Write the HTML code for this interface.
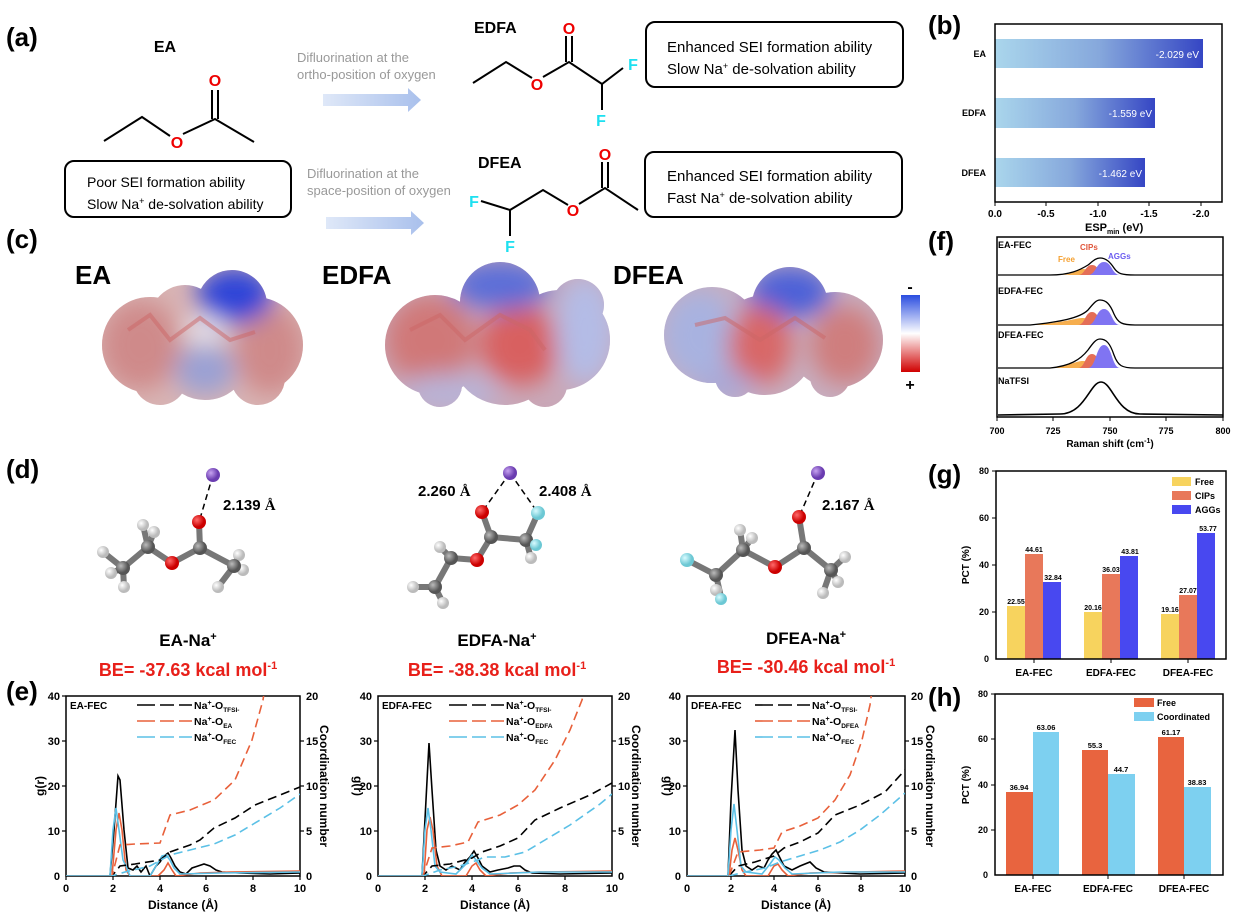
<!DOCTYPE html>
<html><head><meta charset="utf-8"><style>
html,body{margin:0;padding:0;background:#fff;}
svg{display:block;font-family:"Liberation Sans",Arial,sans-serif;}
.b{font-weight:bold;}
.n{font-family:"Liberation Sans Narrow","Liberation Sans",sans-serif;}
</style></head><body>
<svg width="1243" height="917" viewBox="0 0 1243 917" xmlns="http://www.w3.org/2000/svg">
<defs>
<linearGradient id="bar" x1="0" x2="1" y1="0" y2="0"><stop offset="0" stop-color="#aad6ec"/><stop offset="0.5" stop-color="#86a8dc"/><stop offset="1" stop-color="#3546c4"/></linearGradient>
<linearGradient id="arr" x1="0" x2="1"><stop offset="0" stop-color="#dfe8f8"/><stop offset="1" stop-color="#a9c0ec"/></linearGradient>
<linearGradient id="cbar" x1="0" x2="0" y1="0" y2="1"><stop offset="0" stop-color="#2a4de0"/><stop offset="0.5" stop-color="#ffffff"/><stop offset="1" stop-color="#d00000"/></linearGradient>
<radialGradient id="ballC" cx="0.35" cy="0.35"><stop offset="0" stop-color="#bbb"/><stop offset="1" stop-color="#555"/></radialGradient>
<radialGradient id="ballH" cx="0.35" cy="0.35"><stop offset="0" stop-color="#fff"/><stop offset="1" stop-color="#bbb"/></radialGradient>
<radialGradient id="ballO" cx="0.35" cy="0.35"><stop offset="0" stop-color="#ff6a6a"/><stop offset="1" stop-color="#c00"/></radialGradient>
<radialGradient id="ballN" cx="0.35" cy="0.35"><stop offset="0" stop-color="#c7a2f0"/><stop offset="1" stop-color="#6a3cb0"/></radialGradient>
<radialGradient id="ballF" cx="0.35" cy="0.35"><stop offset="0" stop-color="#d9fbff"/><stop offset="1" stop-color="#6cc8d4"/></radialGradient>
<filter id="blur" x="-50%" y="-50%" width="200%" height="200%"><feGaussianBlur stdDeviation="12"/></filter>
<clipPath id="bEA"><circle cx="150" cy="345" r="48"/><circle cx="255" cy="345" r="48"/><circle cx="205" cy="355" r="45"/><circle cx="232" cy="305" r="35"/><circle cx="185" cy="320" r="35"/><circle cx="160" cy="378" r="27"/><circle cx="258" cy="378" r="27"/></clipPath>
<clipPath id="bED"><circle cx="435" cy="345" r="50"/><circle cx="560" cy="340" r="50"/><circle cx="500" cy="302" r="40"/><circle cx="505" cy="350" r="55"/><circle cx="440" cy="385" r="22"/><circle cx="545" cy="385" r="22"/><circle cx="578" cy="305" r="26"/></clipPath>
<clipPath id="bDF"><circle cx="712" cy="335" r="48"/><circle cx="835" cy="340" r="48"/><circle cx="790" cy="305" r="38"/><circle cx="765" cy="345" r="50"/><circle cx="735" cy="377" r="20"/><circle cx="830" cy="377" r="20"/></clipPath>
<clipPath id="c1"><rect x="66" y="696" width="234" height="180"/></clipPath>
<clipPath id="c2"><rect x="378" y="696" width="234" height="180"/></clipPath>
<clipPath id="c3"><rect x="687" y="696" width="218" height="180"/></clipPath>
</defs>

<!-- ===== (a) ===== -->
<text x="6" y="46" class="b" font-size="26">(a)</text>
<text x="165" y="52" class="b" font-size="16" text-anchor="middle">EA</text>
<g stroke="#000" stroke-width="2" fill="none">
<polyline points="104,141 142,117 170,136"/><polyline points="183,134 215,119 254,142"/>
<line x1="212" y1="119" x2="212" y2="90"/><line x1="218" y1="119" x2="218" y2="90"/>
</g>
<g fill="#e00" font-size="16" class="b" text-anchor="middle"><text x="177" y="148">O</text><text x="215" y="86">O</text></g>
<rect x="65" y="161" width="226" height="56" rx="9" fill="none" stroke="#000" stroke-width="2"/>
<text x="87" y="187" font-size="14" class="n">Poor SEI formation ability</text>
<text x="87" y="209" font-size="14" class="n">Slow Na<tspan font-size="9" dy="-5">+</tspan><tspan dy="5"> de-solvation ability</tspan></text>

<text x="297" y="62" font-size="13" fill="#999" class="n">Difluorination at the</text>
<text x="297" y="79" font-size="13" fill="#999" class="n">ortho-position of oxygen</text>
<path d="M323 94 L408 94 L408 88 L421 100 L408 112 L408 106 L323 106Z" fill="url(#arr)"/>
<text x="307" y="178" font-size="13" fill="#999" class="n">Difluorination at the</text>
<text x="307" y="195" font-size="13" fill="#999" class="n">space-position of oxygen</text>
<path d="M326 217 L411 217 L411 211 L424 223 L411 235 L411 229 L326 229Z" fill="url(#arr)"/>

<text x="474" y="33" class="b" font-size="16">EDFA</text>
<g stroke="#000" stroke-width="2" fill="none">
<polyline points="473,83 506,62 532,78"/><polyline points="543,77 569,62 602,84 623,68"/>
<line x1="602" y1="84" x2="602" y2="110"/>
<line x1="566" y1="62" x2="566" y2="36"/><line x1="572" y1="62" x2="572" y2="36"/>
</g>
<g font-size="16" class="b" text-anchor="middle"><text x="537" y="90" fill="#e00">O</text><text x="569" y="34" fill="#e00">O</text><text x="633" y="70" fill="#1de0f0">F</text><text x="601" y="126" fill="#1de0f0">F</text></g>
<rect x="646" y="22" width="257" height="65" rx="9" fill="none" stroke="#000" stroke-width="2"/>
<text x="667" y="52" font-size="15" class="n">Enhanced SEI formation ability</text>
<text x="667" y="74" font-size="15" class="n">Slow Na<tspan font-size="9" dy="-5">+</tspan><tspan dy="5"> de-solvation ability</tspan></text>

<text x="478" y="168" class="b" font-size="16">DFEA</text>
<g stroke="#000" stroke-width="2" fill="none">
<polyline points="481,201 510,210 543,190 568,205"/><polyline points="579,204 605,188 638,210"/>
<line x1="510" y1="210" x2="510" y2="236"/>
<line x1="602" y1="188" x2="602" y2="162"/><line x1="608" y1="188" x2="608" y2="162"/>
</g>
<g font-size="16" class="b" text-anchor="middle"><text x="573" y="216" fill="#e00">O</text><text x="605" y="160" fill="#e00">O</text><text x="474" y="207" fill="#1de0f0">F</text><text x="510" y="252" fill="#1de0f0">F</text></g>
<rect x="645" y="152" width="257" height="65" rx="9" fill="none" stroke="#000" stroke-width="2"/>
<text x="667" y="181" font-size="15" class="n">Enhanced SEI formation ability</text>
<text x="667" y="203" font-size="15" class="n">Fast Na<tspan font-size="9" dy="-5">+</tspan><tspan dy="5"> de-solvation ability</tspan></text>

<!-- ===== (c) ===== -->
<text x="6" y="248" class="b" font-size="26">(c)</text>
<text x="75" y="284" class="b" font-size="26">EA</text>
<text x="322" y="284" class="b" font-size="26">EDFA</text>
<text x="613" y="284" class="b" font-size="26">DFEA</text>
<!-- EA blob -->
<g clip-path="url(#bEA)">
<rect x="90" y="260" width="230" height="160" fill="#d8b4b4"/>
<g filter="url(#blur)">
<ellipse cx="140" cy="345" rx="40" ry="45" fill="#cf8a8a"/>
<ellipse cx="270" cy="350" rx="35" ry="45" fill="#cf8a8a"/>
<ellipse cx="235" cy="295" rx="38" ry="28" fill="#2d44d8"/>
<ellipse cx="205" cy="370" rx="30" ry="25" fill="#9aa0d4"/>
<ellipse cx="205" cy="330" rx="20" ry="14" fill="#e8e4ec"/>
</g>
</g>
<!-- EDFA blob -->
<g clip-path="url(#bED)">
<rect x="375" y="250" width="250" height="170" fill="#c9a8b8"/>
<g filter="url(#blur)">
<ellipse cx="430" cy="340" rx="45" ry="45" fill="#d07878"/>
<ellipse cx="520" cy="345" rx="40" ry="40" fill="#d86060"/>
<ellipse cx="500" cy="285" rx="50" ry="25" fill="#5c6ed8"/>
<ellipse cx="585" cy="330" rx="30" ry="55" fill="#b4bce6"/>
<ellipse cx="450" cy="392" rx="50" ry="18" fill="#b8b4d8"/>
</g>
</g>
<!-- DFEA blob -->
<g clip-path="url(#bDF)">
<rect x="655" y="255" width="240" height="150" fill="#c7aec0"/>
<g filter="url(#blur)">
<ellipse cx="700" cy="335" rx="38" ry="45" fill="#a8b2e0"/>
<ellipse cx="845" cy="345" rx="35" ry="40" fill="#cf7e7e"/>
<ellipse cx="790" cy="292" rx="42" ry="26" fill="#4c60d8"/>
<ellipse cx="760" cy="345" rx="32" ry="40" fill="#d86868"/>
<ellipse cx="725" cy="385" rx="30" ry="14" fill="#a8a8d8"/>
</g>
</g>
<g stroke="#c66" stroke-width="4" opacity="0.5" fill="none">
<polyline points="128,330 150,315 170,340 200,318 230,340 255,332"/>
<polyline points="410,330 440,315 465,340 500,315 530,330 545,350"/>
<polyline points="695,325 725,318 760,340 795,318 825,338"/>
</g>
<rect x="901" y="295" width="19" height="77" fill="url(#cbar)"/>
<text x="910" y="292" class="b" font-size="16" text-anchor="middle">-</text>
<text x="910" y="390" class="b" font-size="16" text-anchor="middle">+</text>

<!-- ===== (d) ===== -->
<text x="6" y="478" class="b" font-size="26">(d)</text>
<g stroke="#777" stroke-width="6" stroke-linecap="round">
<polyline points="123,568 148,547 172,563 200,548 234,566" fill="none"/>
<line x1="200" y1="548" x2="199" y2="522"/>
<line x1="148" y1="547" x2="143" y2="525"/><line x1="148" y1="547" x2="154" y2="532"/>
<line x1="123" y1="568" x2="103" y2="552"/><line x1="123" y1="568" x2="111" y2="573"/><line x1="123" y1="568" x2="124" y2="587"/>
<line x1="234" y1="566" x2="239" y2="555"/><line x1="234" y1="566" x2="243" y2="570"/><line x1="234" y1="566" x2="218" y2="587"/>
</g>
<line x1="213" y1="475" x2="199" y2="522" stroke="#000" stroke-dasharray="6,4" stroke-width="1.5"/>
<g>
<circle cx="143" cy="525" r="6" fill="url(#ballH)"/><circle cx="154" cy="532" r="6" fill="url(#ballH)"/>
<circle cx="103" cy="552" r="6" fill="url(#ballH)"/><circle cx="111" cy="573" r="6" fill="url(#ballH)"/><circle cx="124" cy="587" r="6" fill="url(#ballH)"/>
<circle cx="239" cy="555" r="6" fill="url(#ballH)"/><circle cx="243" cy="570" r="6" fill="url(#ballH)"/><circle cx="218" cy="587" r="6" fill="url(#ballH)"/>
<circle cx="123" cy="568" r="7" fill="url(#ballC)"/><circle cx="148" cy="547" r="7" fill="url(#ballC)"/><circle cx="200" cy="548" r="7" fill="url(#ballC)"/><circle cx="234" cy="566" r="7" fill="url(#ballC)"/>
<circle cx="172" cy="563" r="7" fill="url(#ballO)"/><circle cx="199" cy="522" r="7" fill="url(#ballO)"/>
<circle cx="213" cy="475" r="7" fill="url(#ballN)"/>
</g>
<text x="223" y="510" class="b" font-size="15">2.139 <tspan font-family="Liberation Serif">Å</tspan></text>

<g stroke="#777" stroke-width="6" stroke-linecap="round" fill="none">
<polyline points="435,587 451,558 477,560 491,537 526,540 538,513"/>
<line x1="491" y1="537" x2="482" y2="512"/><line x1="526" y1="540" x2="531" y2="558"/><line x1="526" y1="540" x2="536" y2="545"/>
<line x1="451" y1="558" x2="440" y2="547"/><line x1="435" y1="587" x2="413" y2="587"/><line x1="435" y1="587" x2="443" y2="603"/>
</g>
<g stroke="#000" stroke-dasharray="6,4" stroke-width="1.5"><line x1="510" y1="473" x2="482" y2="512"/><line x1="510" y1="473" x2="538" y2="513"/></g>
<g>
<circle cx="440" cy="547" r="6" fill="url(#ballH)"/><circle cx="413" cy="587" r="6" fill="url(#ballH)"/><circle cx="443" cy="603" r="6" fill="url(#ballH)"/><circle cx="531" cy="558" r="6" fill="url(#ballH)"/>
<circle cx="435" cy="587" r="7" fill="url(#ballC)"/><circle cx="451" cy="558" r="7" fill="url(#ballC)"/><circle cx="491" cy="537" r="7" fill="url(#ballC)"/><circle cx="526" cy="540" r="7" fill="url(#ballC)"/>
<circle cx="536" cy="545" r="6" fill="url(#ballF)"/><circle cx="538" cy="513" r="7" fill="url(#ballF)"/>
<circle cx="477" cy="560" r="7" fill="url(#ballO)"/><circle cx="482" cy="512" r="7" fill="url(#ballO)"/>
<circle cx="510" cy="473" r="7" fill="url(#ballN)"/>
</g>
<text x="418" y="496" class="b" font-size="15">2.260 <tspan font-family="Liberation Serif">Å</tspan></text>
<text x="539" y="496" class="b" font-size="15">2.408 <tspan font-family="Liberation Serif">Å</tspan></text>

<g stroke="#777" stroke-width="6" stroke-linecap="round" fill="none">
<polyline points="687,560 716,575 743,550 775,567 804,548 831,570"/>
<line x1="804" y1="548" x2="799" y2="517"/><line x1="716" y1="575" x2="721" y2="597"/>
<line x1="743" y1="550" x2="740" y2="530"/><line x1="743" y1="550" x2="752" y2="538"/>
<line x1="831" y1="570" x2="845" y2="557"/><line x1="831" y1="570" x2="823" y2="593"/><line x1="831" y1="570" x2="838" y2="582"/>
</g>
<line x1="818" y1="473" x2="799" y2="517" stroke="#000" stroke-dasharray="6,4" stroke-width="1.5"/>
<g>
<circle cx="740" cy="530" r="6" fill="url(#ballH)"/><circle cx="752" cy="538" r="6" fill="url(#ballH)"/><circle cx="845" cy="557" r="6" fill="url(#ballH)"/><circle cx="823" cy="593" r="6" fill="url(#ballH)"/><circle cx="838" cy="582" r="6" fill="url(#ballH)"/><circle cx="716" cy="590" r="6" fill="url(#ballH)"/>
<circle cx="716" cy="575" r="7" fill="url(#ballC)"/><circle cx="743" cy="550" r="7" fill="url(#ballC)"/><circle cx="804" cy="548" r="7" fill="url(#ballC)"/><circle cx="831" cy="570" r="7" fill="url(#ballC)"/>
<circle cx="687" cy="560" r="7" fill="url(#ballF)"/><circle cx="721" cy="599" r="6" fill="url(#ballF)"/>
<circle cx="775" cy="567" r="7" fill="url(#ballO)"/><circle cx="799" cy="517" r="7" fill="url(#ballO)"/>
<circle cx="818" cy="473" r="7" fill="url(#ballN)"/>
</g>
<text x="822" y="510" class="b" font-size="15">2.167 <tspan font-family="Liberation Serif">Å</tspan></text>

<g class="b" font-size="17" text-anchor="middle">
<text x="188" y="646">EA-Na<tspan font-size="11" dy="-6">+</tspan></text>
<text x="497" y="646">EDFA-Na<tspan font-size="11" dy="-6">+</tspan></text>
<text x="806" y="644">DFEA-Na<tspan font-size="11" dy="-6">+</tspan></text>
</g>
<g class="b" font-size="18" fill="#e8201a" text-anchor="middle">
<text x="188" y="676">BE= -37.63 kcal mol<tspan font-size="11" dy="-7">-1</tspan></text>
<text x="497" y="676">BE= -38.38 kcal mol<tspan font-size="11" dy="-7">-1</tspan></text>
<text x="806" y="673">BE= -30.46 kcal mol<tspan font-size="11" dy="-7">-1</tspan></text>
</g>

<!-- ===== (e) ===== -->
<text x="6" y="700" class="b" font-size="26">(e)</text>
<!-- plot 1 -->
<g>
<rect x="66" y="696" width="234" height="180" fill="none" stroke="#000" stroke-width="1.5"/>
<g stroke="#000" stroke-width="1.2">
<line x1="66" y1="876" x2="66" y2="880"/><line x1="113" y1="876" x2="113" y2="880"/><line x1="160" y1="876" x2="160" y2="880"/><line x1="206" y1="876" x2="206" y2="880"/><line x1="253" y1="876" x2="253" y2="880"/><line x1="300" y1="876" x2="300" y2="880"/>
<line x1="62" y1="696" x2="66" y2="696"/><line x1="62" y1="741" x2="66" y2="741"/><line x1="62" y1="786" x2="66" y2="786"/><line x1="62" y1="831" x2="66" y2="831"/>
<line x1="300" y1="741" x2="304" y2="741"/><line x1="300" y1="786" x2="304" y2="786"/><line x1="300" y1="831" x2="304" y2="831"/>
</g>
<g font-size="11" class="b" text-anchor="middle"><text x="66" y="892">0</text><text x="113" y="892">2</text><text x="160" y="892">4</text><text x="206" y="892">6</text><text x="253" y="892">8</text><text x="300" y="892">10</text></g>
<g font-size="11" class="b" text-anchor="end"><text x="60" y="700">40</text><text x="60" y="745">30</text><text x="60" y="790">20</text><text x="60" y="835">10</text><text x="60" y="880">0</text></g>
<g font-size="11" class="b"><text x="306" y="700">20</text><text x="306" y="745">15</text><text x="306" y="790">10</text><text x="306" y="835">5</text><text x="306" y="880">0</text></g>
<text x="183" y="909" class="b" font-size="12" text-anchor="middle">Distance (Å)</text>
<text transform="translate(44,786) rotate(-90)" class="b" font-size="12" text-anchor="middle">g(r)</text>
<text transform="translate(320,786) rotate(90)" class="b" font-size="12" text-anchor="middle">Coordination number</text>
<g clip-path="url(#c1)" fill="none" stroke-width="1.6">
<polyline stroke="#000" points="66,876 110,876 114,830 118,776 120,780 124,830 128,868 133,870 137,866 141,872 146,866 150,876 156,866 160,862 164,856 168,853 171,858 175,866 180,872 186,874 192,868 198,866 204,864 210,866 216,870 222,872 240,873 270,874 300,873"/>
<polyline stroke="#e8603a" points="66,876 112,876 116,830 119,813 122,830 126,870 130,876 158,876 164,870 168,863 172,870 176,876 200,873 230,872 300,871"/>
<polyline stroke="#5bc0e6" points="66,876 110,876 113,830 116,808 119,830 123,860 126,866 130,876 150,876 156,866 162,856 166,855 170,860 174,868 180,874 220,873 300,872"/>
<polyline stroke="#000" stroke-dasharray="9,5" points="66,876 112,876 120,866 135,864 160,860 170,852 190,845 200,840 214,828 235,818 255,805 280,795 300,787"/>
<polyline stroke="#e8603a" stroke-dasharray="9,5" points="66,876 112,876 120,845 135,844 160,843 170,815 190,810 214,800 235,780 252,740 263,700 266,680"/>
<polyline stroke="#5bc0e6" stroke-dasharray="9,5" points="66,876 112,876 125,872 150,866 170,855 190,850 214,844 235,835 260,820 280,808 300,794"/>
</g>
<text x="70" y="709" class="b" font-size="10">EA-FEC</text>
<g stroke-width="1.6" fill="none"><line x1="137" y1="705" x2="192" y2="705" stroke="#000" stroke-dasharray="18,5,14,5"/><line x1="137" y1="721" x2="192" y2="721" stroke="#e8603a" stroke-dasharray="18,5,14,5"/><line x1="137" y1="737" x2="192" y2="737" stroke="#5bc0e6" stroke-dasharray="18,5,14,5"/></g>
<g font-size="10.5" class="b"><text x="194" y="709">Na<tspan font-size="7" dy="-4">+</tspan><tspan dy="4">-O</tspan><tspan font-size="6.5" dy="3">TFSI-</tspan></text><text x="194" y="725">Na<tspan font-size="7" dy="-4">+</tspan><tspan dy="4">-O</tspan><tspan font-size="6.5" dy="3">EA</tspan></text><text x="194" y="741">Na<tspan font-size="7" dy="-4">+</tspan><tspan dy="4">-O</tspan><tspan font-size="6.5" dy="3">FEC</tspan></text></g>
</g>
<!-- plot 2 -->
<g>
<rect x="378" y="696" width="234" height="180" fill="none" stroke="#000" stroke-width="1.5"/>
<g stroke="#000" stroke-width="1.2">
<line x1="425" y1="876" x2="425" y2="880"/><line x1="472" y1="876" x2="472" y2="880"/><line x1="518" y1="876" x2="518" y2="880"/><line x1="565" y1="876" x2="565" y2="880"/>
<line x1="374" y1="741" x2="378" y2="741"/><line x1="374" y1="786" x2="378" y2="786"/><line x1="374" y1="831" x2="378" y2="831"/>
<line x1="612" y1="741" x2="616" y2="741"/><line x1="612" y1="786" x2="616" y2="786"/><line x1="612" y1="831" x2="616" y2="831"/>
</g>
<g font-size="11" class="b" text-anchor="middle"><text x="378" y="892">0</text><text x="425" y="892">2</text><text x="472" y="892">4</text><text x="518" y="892">6</text><text x="565" y="892">8</text><text x="612" y="892">10</text></g>
<g font-size="11" class="b" text-anchor="end"><text x="372" y="700">40</text><text x="372" y="745">30</text><text x="372" y="790">20</text><text x="372" y="835">10</text><text x="372" y="880">0</text></g>
<g font-size="11" class="b"><text x="618" y="700">20</text><text x="618" y="745">15</text><text x="618" y="790">10</text><text x="618" y="835">5</text><text x="618" y="880">0</text></g>
<text x="495" y="909" class="b" font-size="12" text-anchor="middle">Distance (Å)</text>
<text transform="translate(354,786) rotate(90)" class="b" font-size="12" text-anchor="middle">g(r)</text>
<text transform="translate(632,786) rotate(90)" class="b" font-size="12" text-anchor="middle">Coordination number</text>
<g clip-path="url(#c2)" fill="none" stroke-width="1.6">
<polyline stroke="#000" points="378,876 422,876 426,800 429,743 432,790 436,850 440,866 446,870 452,866 460,870 465,862 470,857 474,851 478,858 482,866 490,872 498,870 508,868 514,866 520,866 525,870 532,873 560,874 612,873"/>
<polyline stroke="#e8603a" points="378,876 424,876 427,830 430,817 433,830 437,866 442,876 466,876 472,866 476,863 480,870 486,876 510,873 540,872 612,871"/>
<polyline stroke="#5bc0e6" points="378,876 422,876 425,830 428,808 431,830 435,866 440,872 456,874 466,864 472,855 476,860 482,868 490,874 540,872 612,872"/>
<polyline stroke="#000" stroke-dasharray="9,5" points="378,876 423,876 432,866 450,864 472,858 482,852 500,846 518,838 535,820 560,808 590,795 612,783"/>
<polyline stroke="#e8603a" stroke-dasharray="9,5" points="378,876 423,876 432,848 450,846 468,842 478,822 500,815 518,805 535,790 555,760 570,730 582,700 585,690"/>
<polyline stroke="#5bc0e6" stroke-dasharray="9,5" points="378,876 423,876 440,870 460,866 478,860 484,857 505,857 525,852 545,840 570,825 600,804 612,794"/>
</g>
<text x="382" y="709" class="b" font-size="10">EDFA-FEC</text>
<g stroke-width="1.6" fill="none"><line x1="449" y1="705" x2="504" y2="705" stroke="#000" stroke-dasharray="18,5,14,5"/><line x1="449" y1="721" x2="504" y2="721" stroke="#e8603a" stroke-dasharray="18,5,14,5"/><line x1="449" y1="737" x2="504" y2="737" stroke="#5bc0e6" stroke-dasharray="18,5,14,5"/></g>
<g font-size="10.5" class="b"><text x="506" y="709">Na<tspan font-size="7" dy="-4">+</tspan><tspan dy="4">-O</tspan><tspan font-size="6.5" dy="3">TFSI-</tspan></text><text x="506" y="725">Na<tspan font-size="7" dy="-4">+</tspan><tspan dy="4">-O</tspan><tspan font-size="6.5" dy="3">EDFA</tspan></text><text x="506" y="741">Na<tspan font-size="7" dy="-4">+</tspan><tspan dy="4">-O</tspan><tspan font-size="6.5" dy="3">FEC</tspan></text></g>
</g>
<!-- plot 3 -->
<g>
<rect x="687" y="696" width="218" height="180" fill="none" stroke="#000" stroke-width="1.5"/>
<g stroke="#000" stroke-width="1.2">
<line x1="731" y1="876" x2="731" y2="880"/><line x1="774" y1="876" x2="774" y2="880"/><line x1="818" y1="876" x2="818" y2="880"/><line x1="861" y1="876" x2="861" y2="880"/>
<line x1="683" y1="741" x2="687" y2="741"/><line x1="683" y1="786" x2="687" y2="786"/><line x1="683" y1="831" x2="687" y2="831"/>
<line x1="905" y1="741" x2="909" y2="741"/><line x1="905" y1="786" x2="909" y2="786"/><line x1="905" y1="831" x2="909" y2="831"/>
</g>
<g font-size="11" class="b" text-anchor="middle"><text x="687" y="892">0</text><text x="731" y="892">2</text><text x="774" y="892">4</text><text x="818" y="892">6</text><text x="861" y="892">8</text><text x="905" y="892">10</text></g>
<g font-size="11" class="b" text-anchor="end"><text x="681" y="700">40</text><text x="681" y="745">30</text><text x="681" y="790">20</text><text x="681" y="835">10</text><text x="681" y="880">0</text></g>
<g font-size="11" class="b"><text x="911" y="700">20</text><text x="911" y="745">15</text><text x="911" y="790">10</text><text x="911" y="835">5</text><text x="911" y="880">0</text></g>
<text x="796" y="909" class="b" font-size="12" text-anchor="middle">Distance (Å)</text>
<text transform="translate(664,786) rotate(90)" class="b" font-size="12" text-anchor="middle">g(r)</text>
<text transform="translate(926,786) rotate(90)" class="b" font-size="12" text-anchor="middle">Coordination number</text>
<g clip-path="url(#c3)" fill="none" stroke-width="1.6">
<polyline stroke="#000" points="687,876 728,876 731,800 735,730 738,790 742,850 746,866 752,870 758,866 764,868 768,860 772,854 776,850 780,858 784,866 792,870 800,866 810,862 816,868 824,872 860,874 905,873"/>
<polyline stroke="#e8603a" points="687,876 729,876 732,850 735,838 738,850 742,870 746,876 768,876 774,866 778,864 782,870 788,876 810,873 905,871"/>
<polyline stroke="#5bc0e6" points="687,876 728,876 731,830 734,804 737,830 741,866 746,872 762,874 770,864 775,857 779,860 785,868 792,874 840,872 905,872"/>
<polyline stroke="#000" stroke-dasharray="9,5" points="687,876 729,876 738,866 755,862 774,856 784,848 800,842 818,833 835,815 860,805 885,792 905,770"/>
<polyline stroke="#e8603a" stroke-dasharray="9,5" points="687,876 729,876 738,852 760,850 774,848 782,832 800,826 818,818 835,800 850,775 862,740 870,705 872,690"/>
<polyline stroke="#5bc0e6" stroke-dasharray="9,5" points="687,876 729,876 745,872 765,868 780,862 800,856 820,850 840,842 860,830 880,815 905,793"/>
</g>
<text x="691" y="709" class="b" font-size="10">DFEA-FEC</text>
<g stroke-width="1.6" fill="none"><line x1="755" y1="705" x2="810" y2="705" stroke="#000" stroke-dasharray="18,5,14,5"/><line x1="755" y1="721" x2="810" y2="721" stroke="#e8603a" stroke-dasharray="18,5,14,5"/><line x1="755" y1="737" x2="810" y2="737" stroke="#5bc0e6" stroke-dasharray="18,5,14,5"/></g>
<g font-size="10.5" class="b"><text x="812" y="709">Na<tspan font-size="7" dy="-4">+</tspan><tspan dy="4">-O</tspan><tspan font-size="6.5" dy="3">TFSI-</tspan></text><text x="812" y="725">Na<tspan font-size="7" dy="-4">+</tspan><tspan dy="4">-O</tspan><tspan font-size="6.5" dy="3">DFEA</tspan></text><text x="812" y="741">Na<tspan font-size="7" dy="-4">+</tspan><tspan dy="4">-O</tspan><tspan font-size="6.5" dy="3">FEC</tspan></text></g>
</g>

<!-- ===== (b) ===== -->
<text x="928" y="34" class="b" font-size="26">(b)</text>
<rect x="995" y="39" width="208" height="29" fill="url(#bar)"/>
<rect x="995" y="98" width="160" height="30" fill="url(#bar)"/>
<rect x="995" y="158" width="150" height="29" fill="url(#bar)"/>
<g fill="#fff" font-size="10" text-anchor="end"><text x="1199" y="58">-2.029 eV</text><text x="1152" y="117">-1.559 eV</text><text x="1142" y="177">-1.462 eV</text></g>
<rect x="995" y="24" width="227" height="178" fill="none" stroke="#000" stroke-width="1.5"/>
<g class="b" font-size="9" text-anchor="end"><text x="986" y="57">EA</text><text x="986" y="116">EDFA</text><text x="986" y="176">DFEA</text></g>
<g stroke="#000" stroke-width="1"><line x1="995" y1="202" x2="995" y2="206"/><line x1="1046" y1="202" x2="1046" y2="206"/><line x1="1098" y1="202" x2="1098" y2="206"/><line x1="1149" y1="202" x2="1149" y2="206"/><line x1="1201" y1="202" x2="1201" y2="206"/></g>
<g class="b" font-size="10" text-anchor="middle"><text x="995" y="217">0.0</text><text x="1046" y="217">-0.5</text><text x="1098" y="217">-1.0</text><text x="1149" y="217">-1.5</text><text x="1201" y="217">-2.0</text></g>
<text x="1085" y="231" class="b" font-size="11">ESP<tspan font-size="7" dy="3">min</tspan><tspan dy="-3"> (eV)</tspan></text>

<!-- ===== (f) ===== -->
<text x="928" y="250" class="b" font-size="26">(f)</text>
<g opacity="0.85">
<path d="M1060 275 C1074 275,1074 269,1083 269 C1092 269,1092 275,1099 275Z" fill="#f5a030"/>
<path d="M1078 275 C1085 275,1085 265,1092 265 C1099 265,1099 275,1106 275Z" fill="#e0553a"/>
<path d="M1088 275 C1096 275,1096 262,1104 262 C1112 262,1112 275,1120 275Z" fill="#6b5cf0"/>
<path d="M1030 325 C1070 322,1075 318,1083 318 C1092 318,1092 325,1099 325Z" fill="#f5a030"/>
<path d="M1078 325 C1085 325,1085 312,1092 312 C1099 312,1099 325,1106 325Z" fill="#e0553a"/>
<path d="M1088 325 C1096 325,1096 309,1104 309 C1112 309,1112 325,1120 325Z" fill="#6b5cf0"/>
<path d="M1050 368 C1070 366,1075 361,1083 361 C1092 361,1092 368,1099 368Z" fill="#f5a030"/>
<path d="M1078 368 C1085 368,1085 354,1092 354 C1099 354,1099 368,1106 368Z" fill="#e0553a"/>
<path d="M1088 368 C1096 368,1096 345,1104 345 C1112 345,1112 368,1120 368Z" fill="#6b5cf0"/>
</g>
<g fill="none" stroke="#000" stroke-width="1.3">
<path d="M998 275 L1050 275 C1070 275,1080 270,1088 265 C1093 261,1096 258,1100 258 C1106 258,1110 262,1114 268 C1118 274,1122 275,1135 275 L1223 275"/>
<path d="M998 325 L1030 325 C1060 322,1080 318,1088 310 C1093 304,1096 300,1100 300 C1106 300,1110 304,1114 314 C1118 323,1122 325,1135 325 L1223 325"/>
<path d="M998 368 L1050 368 C1070 366,1080 360,1088 350 C1093 343,1096 339,1100 339 C1106 339,1110 343,1114 355 C1118 366,1122 368,1135 368 L1223 368"/>
<path d="M998 415 L1060 414 C1085 414,1090 382,1101 382 C1112 382,1117 414,1140 414 L1223 415" stroke-width="1.6"/>
</g>
<rect x="997" y="237" width="226" height="180" fill="none" stroke="#000" stroke-width="1.5"/>
<g class="b" font-size="9"><text x="998" y="248">EA-FEC</text><text x="998" y="294">EDFA-FEC</text><text x="998" y="338">DFEA-FEC</text><text x="998" y="384">NaTFSI</text></g>
<g class="b" font-size="8"><text x="1058" y="262" fill="#f5a030">Free</text><text x="1080" y="250" fill="#e0553a">CIPs</text><text x="1108" y="259" fill="#6b5cf0">AGGs</text></g>
<g stroke="#000" stroke-width="1"><line x1="997" y1="417" x2="997" y2="421"/><line x1="1053" y1="417" x2="1053" y2="421"/><line x1="1110" y1="417" x2="1110" y2="421"/><line x1="1166" y1="417" x2="1166" y2="421"/><line x1="1223" y1="417" x2="1223" y2="421"/></g>
<g class="b" font-size="9" text-anchor="middle"><text x="997" y="434">700</text><text x="1053" y="434">725</text><text x="1110" y="434">750</text><text x="1166" y="434">775</text><text x="1223" y="434">800</text></g>
<text x="1110" y="447" class="b" font-size="10" text-anchor="middle">Raman shift (cm<tspan font-size="7" dy="-4">-1</tspan><tspan dy="4">)</tspan></text>

<!-- ===== (g) ===== -->
<text x="928" y="483" class="b" font-size="26">(g)</text>
<g>
<rect x="1007" y="606" width="18" height="53" fill="#f7d35e"/><rect x="1025" y="554" width="18" height="105" fill="#e8785a"/><rect x="1043" y="582" width="18" height="77" fill="#4848f0"/>
<rect x="1084" y="612" width="18" height="47" fill="#f7d35e"/><rect x="1102" y="574" width="18" height="85" fill="#e8785a"/><rect x="1120" y="556" width="18" height="103" fill="#4848f0"/>
<rect x="1161" y="614" width="18" height="45" fill="#f7d35e"/><rect x="1179" y="595" width="18" height="64" fill="#e8785a"/><rect x="1197" y="533" width="18" height="126" fill="#4848f0"/>
</g>
<g class="b" font-size="7" text-anchor="middle">
<text x="1016" y="604">22.55</text><text x="1034" y="552">44.61</text><text x="1053" y="580">32.84</text>
<text x="1093" y="610">20.16</text><text x="1111" y="572">36.03</text><text x="1130" y="554">43.81</text>
<text x="1170" y="612">19.16</text><text x="1188" y="593">27.07</text><text x="1208" y="531">53.77</text>
</g>
<rect x="996" y="471" width="230" height="188" fill="none" stroke="#000" stroke-width="1.5"/>
<rect x="1172" y="477" width="19" height="9" fill="#f7d35e"/><rect x="1172" y="491" width="19" height="9" fill="#e8785a"/><rect x="1172" y="505" width="19" height="9" fill="#4848f0"/>
<g font-size="9" class="b"><text x="1195" y="485">Free</text><text x="1195" y="499">CIPs</text><text x="1195" y="513">AGGs</text></g>
<g stroke="#000" stroke-width="1"><line x1="992" y1="471" x2="996" y2="471"/><line x1="992" y1="518" x2="996" y2="518"/><line x1="992" y1="565" x2="996" y2="565"/><line x1="992" y1="612" x2="996" y2="612"/><line x1="1034" y1="659" x2="1034" y2="663"/><line x1="1111" y1="659" x2="1111" y2="663"/><line x1="1188" y1="659" x2="1188" y2="663"/></g>
<g class="b" font-size="9" text-anchor="end"><text x="989" y="474">80</text><text x="989" y="521">60</text><text x="989" y="568">40</text><text x="989" y="615">20</text><text x="989" y="662">0</text></g>
<g class="b" font-size="10" text-anchor="middle"><text x="1034" y="676">EA-FEC</text><text x="1111" y="676">EDFA-FEC</text><text x="1188" y="676">DFEA-FEC</text></g>
<text transform="translate(969,565) rotate(-90)" class="b" font-size="10" text-anchor="middle">PCT (%)</text>

<!-- ===== (h) ===== -->
<text x="928" y="706" class="b" font-size="26">(h)</text>
<g>
<rect x="1006" y="792" width="27" height="83" fill="#e8643f"/><rect x="1033" y="732" width="26" height="143" fill="#7dd0f0"/>
<rect x="1082" y="750" width="26" height="125" fill="#e8643f"/><rect x="1108" y="774" width="27" height="101" fill="#7dd0f0"/>
<rect x="1158" y="737" width="26" height="138" fill="#e8643f"/><rect x="1184" y="787" width="27" height="88" fill="#7dd0f0"/>
</g>
<g class="b" font-size="7.5" text-anchor="middle">
<text x="1019" y="790">36.94</text><text x="1046" y="730">63.06</text>
<text x="1095" y="748">55.3</text><text x="1121" y="772">44.7</text>
<text x="1171" y="735">61.17</text><text x="1197" y="785">38.83</text>
</g>
<rect x="995" y="694" width="228" height="181" fill="none" stroke="#000" stroke-width="1.5"/>
<rect x="1134" y="698" width="20" height="9" fill="#e8643f"/><rect x="1134" y="712" width="20" height="9" fill="#7dd0f0"/>
<g font-size="9" class="b"><text x="1157" y="706">Free</text><text x="1157" y="720">Coordinated</text></g>
<g stroke="#000" stroke-width="1"><line x1="991" y1="694" x2="995" y2="694"/><line x1="991" y1="739" x2="995" y2="739"/><line x1="991" y1="785" x2="995" y2="785"/><line x1="991" y1="830" x2="995" y2="830"/><line x1="1033" y1="875" x2="1033" y2="879"/><line x1="1108" y1="875" x2="1108" y2="879"/><line x1="1184" y1="875" x2="1184" y2="879"/></g>
<g class="b" font-size="9" text-anchor="end"><text x="988" y="697">80</text><text x="988" y="742">60</text><text x="988" y="788">40</text><text x="988" y="833">20</text><text x="988" y="878">0</text></g>
<g class="b" font-size="10" text-anchor="middle"><text x="1033" y="892">EA-FEC</text><text x="1108" y="892">EDFA-FEC</text><text x="1184" y="892">DFEA-FEC</text></g>
<text transform="translate(969,785) rotate(-90)" class="b" font-size="10" text-anchor="middle">PCT (%)</text>
</svg>
</body></html>
